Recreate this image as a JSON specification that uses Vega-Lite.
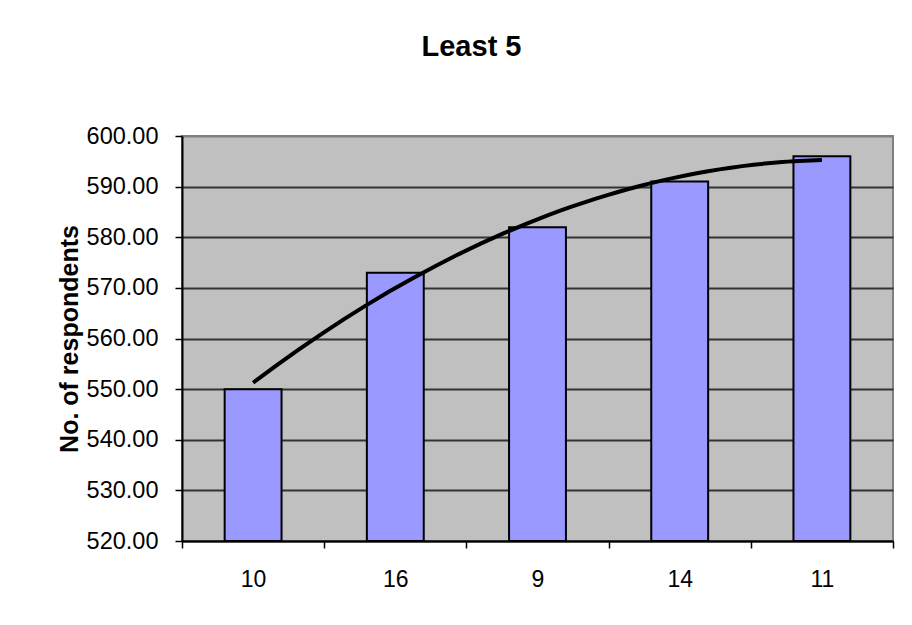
{
  "$schema": "https://vega.github.io/schema/vega-lite/v6.json",
  "width": 711,
  "height": 405,
  "autosize": {"type": "none"},
  "padding": {"left": 182, "top": 136, "right": 19, "bottom": 84},
  "background": "white",
  "title": {
    "text": "Least 5",
    "font": "Liberation Sans",
    "fontSize": 29,
    "fontWeight": "bold",
    "color": "black",
    "anchor": "middle",
    "dx": -66,
    "offset": 62
  },
  "data": {
    "values": [
      {"category": "10", "idx": 1, "respondents": 550},
      {"category": "16", "idx": 2, "respondents": 573},
      {"category": "9", "idx": 3, "respondents": 582},
      {"category": "14", "idx": 4, "respondents": 591},
      {"category": "11", "idx": 5, "respondents": 596}
    ]
  },
  "layer": [
    {
      "mark": {"type": "bar", "fill": "#9999FF", "stroke": "black", "strokeWidth": 2, "width": {"band": 0.4}},
      "encoding": {
        "x": {
          "field": "category",
          "type": "nominal",
          "sort": null,
          "scale": {"paddingInner": 0, "paddingOuter": 0},
          "axis": {
            "title": null,
            "labelAngle": 0,
            "labelFont": "Liberation Sans",
            "labelFontSize": 23,
            "labelColor": "black",
            "labelPadding": 20,
            "tickBand": "extent",
            "tickSize": 7,
            "tickColor": "black",
            "tickWidth": 1.5,
            "domainColor": "black",
            "domainWidth": 2,
            "grid": false
          }
        },
        "y": {
          "field": "respondents",
          "type": "quantitative",
          "scale": {"domain": [520, 600], "zero": false, "nice": false},
          "axis": {
            "title": "No. of respondents",
            "titleFont": "Liberation Sans",
            "titleFontSize": 25,
            "titleFontWeight": "bold",
            "titleColor": "black",
            "titlePadding": 4,
            "values": [520, 530, 540, 550, 560, 570, 580, 590, 600],
            "format": ".2f",
            "labelFont": "Liberation Sans",
            "labelFontSize": 23.5,
            "labelColor": "black",
            "labelPadding": 17,
            "tickSize": 7,
            "tickColor": "black",
            "tickWidth": 1.5,
            "domainColor": "black",
            "domainWidth": 2,
            "grid": true,
            "gridColor": {"condition": {"test": "datum.value === 600", "value": "#808080"}, "value": "#333333"},
            "gridWidth": 2
          }
        },
        "y2": {"datum": 520}
      }
    },
    {
      "transform": [{"regression": "respondents", "on": "idx", "method": "poly", "order": 2}],
      "mark": {"type": "line", "color": "black", "strokeWidth": 4},
      "encoding": {
        "x": {"field": "idx", "type": "quantitative", "scale": {"domain": [0.5, 5.5], "nice": false, "zero": false}, "axis": null},
        "y": {"field": "respondents", "type": "quantitative"}
      }
    }
  ],
  "resolve": {"scale": {"x": "independent"}},
  "config": {
    "view": {"fill": "#C0C0C0", "stroke": "#808080", "strokeWidth": 2}
  }
}
